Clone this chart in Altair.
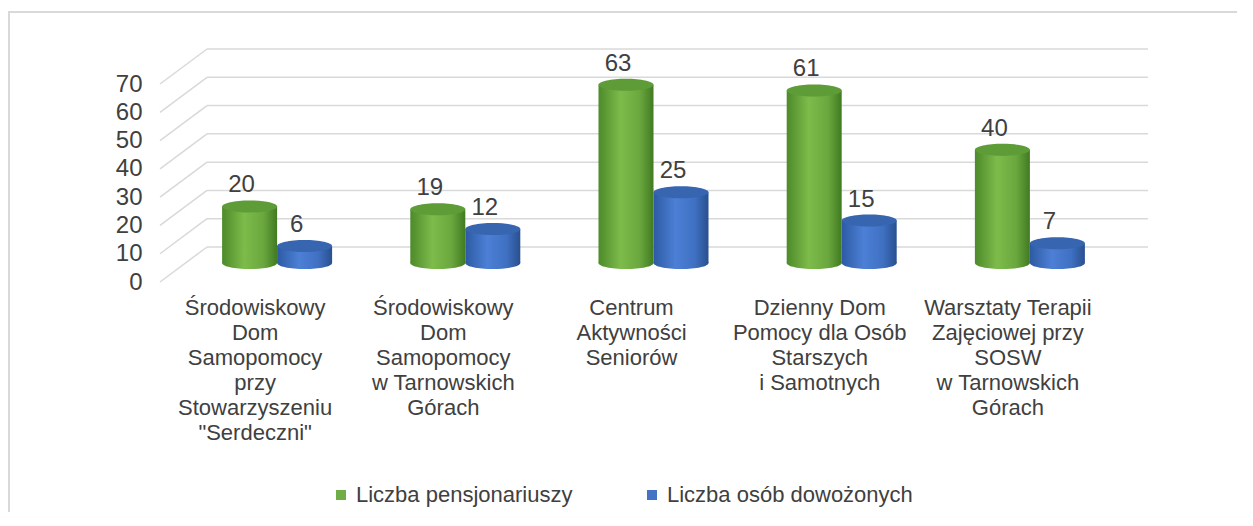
import altair as alt
import pandas as pd

# ---- data ----
categories = [
    "Środowiskowy|Dom|Samopomocy|przy|Stowarzyszeniu|\"Serdeczni\"",
    "Środowiskowy|Dom|Samopomocy|w Tarnowskich|Górach",
    "Centrum|Aktywności|Seniorów",
    "Dzienny Dom|Pomocy dla Osób|Starszych|i Samotnych",
    "Warsztaty Terapii|Zajęciowej przy|SOSW|w Tarnowskich|Górach",
]
series = ["Liczba pensjonariuszy", "Liczba osób dowożonych"]
pensjonariusze = [20, 19, 63, 61, 40]
dowozeni = [6, 12, 25, 15, 7]
y_ticks = [0, 10, 20, 30, 40, 50, 60, 70]

rows = []
for c, a, b in zip(categories, pensjonariusze, dowozeni):
    rows.append({"category": c, "series": series[0], "value": a})
    rows.append({"category": c, "series": series[1], "value": b})
df = pd.DataFrame(rows)
ticks_df = pd.DataFrame({"tick": y_ticks})
frame_df = pd.DataFrame({"k": [0]})

FONT = "Liberation Sans"
TXT = "#404040"
GRID = "#d9d9d9"
W, H = 941, 198
BAR_DY = 16

ellipse = "M -1 0 A 1 0.22 0 1 0 1 0 A 1 0.22 0 1 0 -1 0 Z"
diag = "M 0 0 L -1 0.745"

green_grad = alt.LinearGradient(
    gradient="linear", x1=0, x2=1, y1=0, y2=0,
    stops=[alt.GradientStop(color="#4d8a2a", offset=0),
           alt.GradientStop(color="#7dbb4b", offset=0.4),
           alt.GradientStop(color="#6aa83e", offset=0.75),
           alt.GradientStop(color="#417a22", offset=1)])
blue_grad = alt.LinearGradient(
    gradient="linear", x1=0, x2=1, y1=0, y2=0,
    stops=[alt.GradientStop(color="#2d5aa3", offset=0),
           alt.GradientStop(color="#4c80d6", offset=0.4),
           alt.GradientStop(color="#3f70c2", offset=0.75),
           alt.GradientStop(color="#29508f", offset=1)])
grads = {series[0]: green_grad, series[1]: blue_grad}
tops = {series[0]: "#5e9c38", series[1]: "#3765b0"}

x_scale = alt.Scale(range=[-24, W - 24], paddingInner=0.4155, paddingOuter=0.2078)
x_enc = alt.X("category:N", sort=categories, scale=x_scale)
xo_enc = alt.XOffset("series:N", sort=series, scale=alt.Scale(paddingInner=0, paddingOuter=0))
y_scale = alt.Scale(domain=[0, 70], nice=False, zero=True)
y_axis = alt.Axis(values=y_ticks, tickCount=8, grid=False, domain=False, ticks=False,
                  labelOffset=35, labelPadding=65, labelFontSize=24,
                  labelOverlap=False, labelFont=FONT, labelColor=TXT,
                  title=None, zindex=1)


def Y(field, **kw):
    return alt.Y(field, scale=y_scale, axis=y_axis, **kw)


frame = alt.Chart(frame_df).mark_rect(fill="transparent", stroke=GRID, strokeWidth=2).encode(
    x=alt.value(-198), x2=alt.value(1300), y=alt.value(-37), y2=alt.value(700))

gridlines = alt.Chart(ticks_df).mark_rule(color=GRID, strokeWidth=1.5).encode(
    x=alt.value(0), x2=alt.value(W), y=Y("tick:Q"))

diagonals = alt.Chart(ticks_df).mark_point(
    shape=diag, size=94 * 94, filled=False, color=GRID, strokeWidth=1.5, opacity=1
).encode(x=alt.value(0), y=Y("tick:Q"))

xaxis_layer = alt.Chart(df).mark_point(opacity=0, size=1).encode(
    x=alt.X("category:N", sort=categories, scale=x_scale,
            axis=alt.Axis(title=None, domain=False, ticks=False, grid=False, labelAngle=0,
                          labelExpr="split(datum.label, '|')", labelFontSize=22,
                          labelFont=FONT, labelColor=TXT, labelLineHeight=25,
                          labelPadding=50, labelOffset=-22, labelLimit=0,
                          labelOverlap=False, zindex=1)),
    y=Y("value:Q"),
)

layers = [frame, gridlines, diagonals, xaxis_layer]
for s in series:
    base = alt.Chart(df).transform_filter(alt.datum.series == s).transform_calculate(zero="0")
    bottom = base.mark_point(shape=ellipse, size=55 * 55, filled=True, fill=grads[s],
                             strokeWidth=0, opacity=1, yOffset=BAR_DY).encode(
        x=x_enc, xOffset=xo_enc, y=Y("zero:Q"))
    body = base.mark_bar(fill=grads[s], yOffset=BAR_DY, y2Offset=BAR_DY).encode(
        x=x_enc, xOffset=xo_enc,
        y=Y("value:Q", stack=None),
        y2=alt.Y2("zero:Q"),
    )
    top = base.mark_point(shape=ellipse, size=55 * 55, filled=True, fill=tops[s],
                          strokeWidth=0, opacity=1, yOffset=BAR_DY).encode(
        x=x_enc, xOffset=xo_enc, y=Y("value:Q"))
    label = base.mark_text(fontSize=24, font=FONT, color=TXT, dx=-8, dy=-21,
                           yOffset=BAR_DY, baseline="middle").encode(
        x=x_enc, xOffset=xo_enc, y=Y("value:Q"), text="value:Q")
    layers += [bottom, body, top, label]

legend_layer = alt.Chart(df).mark_square(size=1, opacity=0).encode(
    x=x_enc, xOffset=xo_enc, y=Y("value:Q"),
    color=alt.Color("series:N", sort=series,
                    scale=alt.Scale(domain=series, range=["#70ad47", "#4472c4"]),
                    legend=alt.Legend(title=None, orient="none", legendX=123, legendY=435,
                                      direction="horizontal", symbolType="square",
                                      symbolSize=100, symbolOpacity=1, symbolStrokeWidth=0,
                                      labelFontSize=22, labelFont=FONT, labelColor=TXT,
                                      labelLimit=0, columnPadding=68, labelOffset=4,
                                      padding=0)),
)
layers.append(legend_layer)

chart = alt.layer(*layers).properties(
    width=W, height=H,
    background="white",
    autosize=alt.AutoSizeParams(type="none"),
    padding={"left": 199, "top": 41, "right": 89, "bottom": 265},
).configure_view(strokeWidth=0, stroke="transparent").configure_axisY(labelOverlap=False)

chart.save("out.html", embed_options={"renderer": "svg", "actions": False})
